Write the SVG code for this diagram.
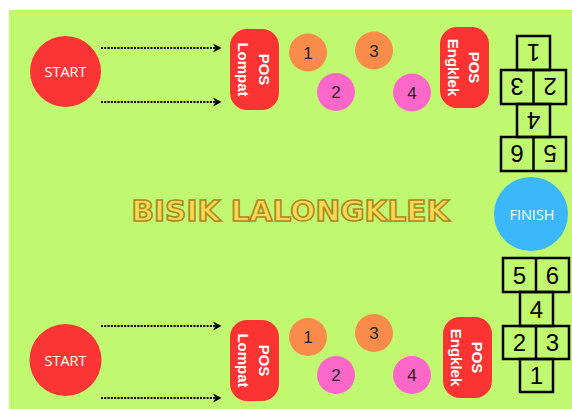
<svg xmlns="http://www.w3.org/2000/svg" width="572" height="409" viewBox="0 0 572 409">
<defs>
<marker id="arr" viewBox="0 0 10 10" refX="8" refY="5" markerWidth="4.5" markerHeight="4.5" orient="auto" markerUnits="strokeWidth">
<path d="M1,0.5 L9.5,5 L1,9.5 L3.5,5 Z" fill="#000"/>
</marker>
<style>
.pos{fill:#fb3333}
.start{fill:#fb3535}
.lbl{font-family:"Open Sans","Liberation Sans",sans-serif;font-size:14.5px;fill:#fff;text-anchor:middle}
.pt{font-family:"Liberation Sans",Arial,sans-serif;font-size:15px;font-weight:bold;fill:#fff;text-anchor:middle}
.or{fill:#f98c4b}
.pk{fill:#fd68c8}
.num{font-family:"Liberation Sans",Arial,sans-serif;font-size:17px;fill:#222;text-anchor:middle}
.hop{fill:none;stroke:#000;stroke-width:2.5}
.hn{font-family:"Liberation Sans",Arial,sans-serif;font-size:24px;fill:#000;text-anchor:middle}
.con{stroke:#000;stroke-width:2.2;stroke-dasharray:2 1.3;fill:none}
</style>
</defs>
<rect x="9" y="10" width="563" height="399" fill="#c0f870"/>

<g id="title">
<text x="290.5" y="221" font-family="DejaVu Sans,Verdana,sans-serif" font-size="28" font-weight="bold" fill="#ffd952" stroke="#ab8a22" stroke-width="1.6" text-anchor="middle" textLength="318" lengthAdjust="spacingAndGlyphs">BISIK LALONGKLEK</text>
</g>

<g id="connectors">
<line class="con" x1="101" y1="48" x2="220" y2="48" marker-end="url(#arr)"/>
<line class="con" x1="101" y1="102" x2="220" y2="102" marker-end="url(#arr)"/>
<line class="con" x1="101" y1="326" x2="220" y2="326" marker-end="url(#arr)"/>
<line class="con" x1="101" y1="398" x2="220" y2="398" marker-end="url(#arr)"/>
</g>

<g id="start-top">
<circle class="start" cx="65.5" cy="71.5" r="35.5"/>
<text class="lbl" x="65.5" y="77">START</text>
</g>
<g id="start-bottom">
<circle class="start" cx="65.5" cy="360" r="36"/>
<text class="lbl" x="65.5" y="365.5">START</text>
</g>
<g id="finish">
<circle cx="531" cy="214" r="37" fill="#3bb7fb"/>
<text class="lbl" x="532" y="219.5">FINISH</text>
</g>

<g id="pos-lompat-top">
<rect class="pos" x="230" y="29" width="49" height="81" rx="17"/>
<g transform="translate(254.5 69.5) rotate(90)">
<text class="pt" x="0" y="-4.5">POS</text>
<text class="pt" x="0" y="16.5">Lompat</text>
</g>
</g>
<g id="pos-engklek-top">
<rect class="pos" x="440" y="27" width="49" height="81" rx="17"/>
<g transform="translate(464.5 67.5) rotate(90)">
<text class="pt" x="0" y="-4.5">POS</text>
<text class="pt" x="0" y="16.5">Engklek</text>
</g>
</g>
<g id="pos-lompat-bottom">
<rect class="pos" x="230" y="320" width="49" height="81" rx="17"/>
<g transform="translate(254.5 360.5) rotate(90)">
<text class="pt" x="0" y="-4.5">POS</text>
<text class="pt" x="0" y="16.5">Lompat</text>
</g>
</g>
<g id="pos-engklek-bottom">
<rect class="pos" x="443" y="317" width="49" height="81" rx="17"/>
<g transform="translate(467.5 357.5) rotate(90)">
<text class="pt" x="0" y="-4.5">POS</text>
<text class="pt" x="0" y="16.5">Engklek</text>
</g>
</g>

<g id="c1-top"><circle class="or" cx="308" cy="52.5" r="19"/><text class="num" x="308" y="58.5">1</text></g>
<g id="c3-top"><circle class="or" cx="374" cy="50.5" r="19"/><text class="num" x="374" y="56.5">3</text></g>
<g id="c2-top"><circle class="pk" cx="336" cy="92" r="19"/><text class="num" x="336" y="98">2</text></g>
<g id="c4-top"><circle class="pk" cx="412" cy="92.5" r="19"/><text class="num" x="412" y="98.5">4</text></g>

<g id="c1-bottom"><circle class="or" cx="308" cy="337" r="19"/><text class="num" x="308" y="343">1</text></g>
<g id="c3-bottom"><circle class="or" cx="374" cy="333" r="19"/><text class="num" x="374" y="339">3</text></g>
<g id="c2-bottom"><circle class="pk" cx="336" cy="375" r="19"/><text class="num" x="336" y="381">2</text></g>
<g id="c4-bottom"><circle class="pk" cx="412" cy="375" r="19"/><text class="num" x="412" y="381">4</text></g>

<g id="hopscotch-top">
<rect class="hop" x="517" y="36" width="33" height="34"/>
<rect class="hop" x="501" y="70" width="65" height="34"/>
<line class="hop" x1="533.5" y1="70" x2="533.5" y2="104"/>
<rect class="hop" x="517" y="104" width="33" height="33"/>
<rect class="hop" x="501" y="137" width="65" height="34"/>
<line class="hop" x1="533.5" y1="137" x2="533.5" y2="171"/>
<text class="hn" x="533.5" y="61.6" transform="rotate(180 533.5 53)">1</text>
<text class="hn" x="517" y="95.6" transform="rotate(180 517 87)">3</text>
<text class="hn" x="550" y="95.6" transform="rotate(180 550 87)">2</text>
<text class="hn" x="533.5" y="129.1" transform="rotate(180 533.5 120.5)">4</text>
<text class="hn" x="517" y="162.6" transform="rotate(180 517 154)">6</text>
<text class="hn" x="550" y="162.6" transform="rotate(180 550 154)">5</text>
</g>

<g id="hopscotch-bottom">
<rect class="hop" x="503" y="258" width="66" height="34"/>
<line class="hop" x1="536" y1="258" x2="536" y2="292"/>
<rect class="hop" x="520" y="292" width="33" height="34"/>
<rect class="hop" x="503" y="326" width="66" height="33"/>
<line class="hop" x1="536" y1="326" x2="536" y2="359"/>
<rect class="hop" x="520" y="359" width="33" height="33"/>
<text class="hn" x="519.5" y="283.6">5</text>
<text class="hn" x="552.5" y="283.6">6</text>
<text class="hn" x="536.5" y="317.6">4</text>
<text class="hn" x="519.5" y="351.1">2</text>
<text class="hn" x="552.5" y="351.1">3</text>
<text class="hn" x="536.5" y="384.1">1</text>
</g>
</svg>
